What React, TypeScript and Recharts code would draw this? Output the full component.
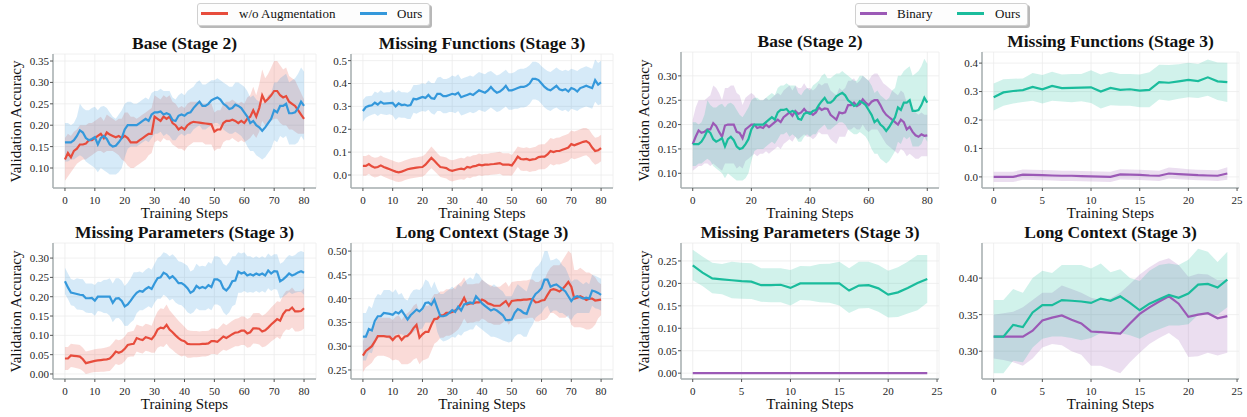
import { Area, CartesianGrid, ComposedChart, Line, XAxis, YAxis } from "recharts";

const RED = "#e74c3c";
const BLUE = "#3498db";
const PURPLE = "#9b59b6";
const GREEN = "#1abc9c";
const FONT = '"Liberation Serif", "Times New Roman", serif';

// x categories (training steps)
const steps81 = Array.from({ length: 81 }, (_, i) => i);
const steps25 = Array.from({ length: 25 }, (_, i) => i);

const xTicks80 = [0, 10, 20, 30, 40, 50, 60, 70, 80];
const xTicks80Wide = [0, 20, 40, 60, 80];
const xTicks25 = [0, 5, 10, 15, 20, 25];

// ---- Base (Stage 2)
const woBaseMean = [
  0.12, 0.135, 0.125, 0.14, 0.145, 0.155, 0.155, 0.157, 0.165, 0.165,
  0.17, 0.175, 0.18, 0.17, 0.183, 0.178, 0.175, 0.172, 0.175, 0.17,
  0.175, 0.17, 0.16, 0.16, 0.16, 0.165, 0.17, 0.175, 0.18, 0.18,
  0.22, 0.215, 0.21, 0.22, 0.215, 0.22, 0.205, 0.2, 0.19, 0.195,
  0.19, 0.2, 0.205, 0.208, 0.207, 0.206, 0.205, 0.204, 0.203, 0.202,
  0.185, 0.19, 0.19, 0.205, 0.21, 0.21, 0.213, 0.21, 0.205, 0.21,
  0.205, 0.215, 0.22, 0.235, 0.22, 0.24, 0.27, 0.255, 0.262, 0.27,
  0.28, 0.28, 0.27, 0.265, 0.268, 0.255, 0.25, 0.245, 0.235, 0.225,
  0.215,
];
const woBaseLo = [
  0.07, 0.08, 0.09, 0.1, 0.11, 0.115, 0.12, 0.12, 0.125, 0.13,
  0.135, 0.14, 0.14, 0.135, 0.14, 0.14, 0.14, 0.135, 0.13, 0.12,
  0.115, 0.105, 0.1, 0.1, 0.105, 0.11, 0.115, 0.12, 0.13, 0.135,
  0.16, 0.165, 0.16, 0.17, 0.165, 0.165, 0.155, 0.15, 0.145, 0.145,
  0.14, 0.15, 0.155, 0.16, 0.16, 0.16, 0.16, 0.155, 0.155, 0.155,
  0.14, 0.145, 0.145, 0.16, 0.165, 0.165, 0.17, 0.165, 0.16, 0.165,
  0.16, 0.165, 0.17, 0.18, 0.17, 0.185, 0.21, 0.2, 0.205, 0.21,
  0.215, 0.215, 0.205, 0.2, 0.2, 0.19, 0.19, 0.185, 0.18, 0.18,
  0.18,
];
const woBaseHi = [
  0.17, 0.18, 0.175, 0.185, 0.19, 0.2, 0.2, 0.2, 0.205, 0.205,
  0.21, 0.215, 0.22, 0.21, 0.225, 0.22, 0.215, 0.21, 0.215, 0.215,
  0.23, 0.23, 0.22, 0.22, 0.215, 0.22, 0.225, 0.23, 0.235, 0.24,
  0.27, 0.265, 0.26, 0.27, 0.265, 0.27, 0.255, 0.25, 0.24, 0.245,
  0.24, 0.25, 0.255, 0.255, 0.255, 0.255, 0.25, 0.25, 0.25, 0.25,
  0.23, 0.235, 0.235, 0.25, 0.255, 0.255, 0.26, 0.255, 0.25, 0.255,
  0.25, 0.265, 0.27, 0.29, 0.27, 0.295, 0.33, 0.31, 0.32, 0.335,
  0.35, 0.35, 0.34, 0.33, 0.335, 0.315, 0.31, 0.305, 0.29, 0.275,
  0.26,
];
const oursBaseMean = [
  0.16, 0.16, 0.16, 0.165, 0.175, 0.188, 0.183, 0.17, 0.165, 0.168,
  0.172, 0.155, 0.17, 0.175, 0.168, 0.155, 0.15, 0.152, 0.16, 0.17,
  0.19, 0.2, 0.2, 0.2, 0.2, 0.205, 0.21, 0.215, 0.21, 0.225,
  0.23, 0.23, 0.232, 0.225, 0.228, 0.225, 0.212, 0.21, 0.222, 0.225,
  0.222, 0.228, 0.23, 0.24, 0.248, 0.255, 0.245, 0.245, 0.25, 0.258,
  0.262, 0.265, 0.26, 0.25, 0.245, 0.238, 0.24, 0.248, 0.245, 0.24,
  0.23, 0.22, 0.205, 0.21, 0.2, 0.195, 0.187, 0.195, 0.205, 0.215,
  0.235, 0.23, 0.245, 0.245, 0.25, 0.228, 0.228, 0.23, 0.24, 0.255,
  0.245,
];
const oursBaseLo = [
  0.115, 0.115, 0.12, 0.12, 0.125, 0.13, 0.125, 0.115, 0.11, 0.105,
  0.1, 0.09, 0.1, 0.095, 0.09, 0.085, 0.085, 0.085, 0.09, 0.1,
  0.125, 0.145, 0.15, 0.15, 0.15, 0.155, 0.16, 0.165, 0.16, 0.17,
  0.18, 0.18, 0.185, 0.175, 0.18, 0.175, 0.165, 0.165, 0.175, 0.18,
  0.175, 0.18, 0.18, 0.19, 0.195, 0.2, 0.19, 0.19, 0.195, 0.2,
  0.205, 0.205, 0.2, 0.19, 0.185, 0.18, 0.18, 0.185, 0.18, 0.175,
  0.165, 0.15, 0.14, 0.14, 0.13, 0.125, 0.12, 0.125, 0.135, 0.145,
  0.165, 0.16, 0.175, 0.17, 0.175, 0.155, 0.155, 0.155, 0.16, 0.175,
  0.165,
];
const oursBaseHi = [
  0.205, 0.205, 0.2, 0.205, 0.22, 0.25, 0.24, 0.235, 0.235, 0.24,
  0.243, 0.235, 0.243, 0.245, 0.24, 0.23, 0.22, 0.215, 0.225, 0.235,
  0.25, 0.255, 0.255, 0.25, 0.25, 0.255, 0.26, 0.265, 0.26, 0.275,
  0.28, 0.28, 0.285, 0.28, 0.28, 0.28, 0.265, 0.26, 0.27, 0.275,
  0.27, 0.28, 0.285, 0.29, 0.3, 0.305, 0.295, 0.295, 0.3, 0.305,
  0.305, 0.31, 0.305, 0.3, 0.295, 0.29, 0.29, 0.3, 0.3, 0.295,
  0.29, 0.28, 0.265, 0.27, 0.26, 0.255, 0.25, 0.255, 0.27, 0.275,
  0.3, 0.3, 0.31, 0.315, 0.32, 0.3, 0.305, 0.31, 0.32, 0.335,
  0.325,
];
const binBaseMean = [
  0.16, 0.175, 0.188, 0.183, 0.185, 0.19, 0.19, 0.203, 0.197, 0.185,
  0.175, 0.198, 0.2, 0.2, 0.2, 0.185, 0.183, 0.172, 0.19, 0.195,
  0.2, 0.2, 0.193, 0.195, 0.193, 0.2, 0.195, 0.2, 0.205, 0.21,
  0.205, 0.215, 0.22, 0.225, 0.218, 0.228, 0.222, 0.225, 0.232, 0.225,
  0.225, 0.22, 0.225, 0.235, 0.23, 0.233, 0.232, 0.22, 0.215, 0.21,
  0.225, 0.223, 0.225, 0.24, 0.24, 0.245, 0.238, 0.242, 0.252, 0.245,
  0.24, 0.247, 0.25, 0.25, 0.24, 0.228, 0.22, 0.215, 0.21, 0.205,
  0.2, 0.21, 0.205, 0.19, 0.195, 0.185, 0.178, 0.175, 0.18, 0.177,
  0.178,
];
const binBaseLo = [
  0.105, 0.11, 0.115, 0.115, 0.12, 0.12, 0.115, 0.12, 0.115, 0.11,
  0.105, 0.12, 0.12, 0.12, 0.12, 0.11, 0.115, 0.11, 0.125, 0.13,
  0.135, 0.14, 0.135, 0.14, 0.14, 0.145, 0.14, 0.145, 0.15, 0.155,
  0.15, 0.16, 0.165, 0.17, 0.165, 0.175, 0.17, 0.175, 0.18, 0.175,
  0.175, 0.17, 0.175, 0.185, 0.18, 0.18, 0.18, 0.17, 0.165, 0.16,
  0.175, 0.175, 0.175, 0.19, 0.19, 0.195, 0.19, 0.19, 0.2, 0.19,
  0.185, 0.19, 0.19, 0.19, 0.18, 0.17, 0.16, 0.155, 0.15, 0.145,
  0.14, 0.15, 0.145, 0.135, 0.14, 0.135, 0.13, 0.13, 0.135, 0.135,
  0.135,
];
const binBaseHi = [
  0.21, 0.235, 0.25, 0.25, 0.25, 0.255, 0.26, 0.28, 0.275, 0.265,
  0.25, 0.275, 0.275, 0.28, 0.28, 0.265, 0.26, 0.24, 0.255, 0.26,
  0.265, 0.26, 0.25, 0.25, 0.25, 0.255, 0.25, 0.255, 0.26, 0.265,
  0.26, 0.27, 0.275, 0.28, 0.27, 0.28, 0.275, 0.275, 0.285, 0.275,
  0.275, 0.27, 0.275, 0.285, 0.28, 0.285, 0.285, 0.27, 0.265, 0.26,
  0.275, 0.27, 0.275, 0.29, 0.29, 0.295, 0.285, 0.29, 0.3, 0.295,
  0.29, 0.3, 0.305, 0.305, 0.295, 0.285, 0.28, 0.275, 0.27, 0.265,
  0.26, 0.27, 0.265, 0.245, 0.25, 0.235, 0.225, 0.22, 0.225, 0.22,
  0.22,
];

// ---- Missing Functions (Stage 3)
const woMFMean = [
  0.04, 0.04, 0.048, 0.038, 0.032, 0.035, 0.042, 0.035, 0.03, 0.025,
  0.02, 0.015, 0.012, 0.015, 0.02, 0.025, 0.028, 0.03, 0.032, 0.034,
  0.035, 0.045, 0.06, 0.075, 0.062, 0.048, 0.035, 0.033, 0.03, 0.022,
  0.018, 0.022, 0.025, 0.028, 0.025, 0.035, 0.032, 0.038, 0.04, 0.045,
  0.042, 0.045, 0.045, 0.047, 0.048, 0.05, 0.052, 0.045, 0.045, 0.045,
  0.042, 0.06, 0.08, 0.07, 0.068, 0.07, 0.065, 0.068, 0.07, 0.078,
  0.08, 0.08, 0.09, 0.105, 0.1, 0.105, 0.105, 0.11, 0.115, 0.12,
  0.135, 0.13, 0.135, 0.14, 0.145, 0.148, 0.14, 0.12, 0.105, 0.108,
  0.118,
];
const woMFLo = [
  -0.003, -0.003, 0.005, -0.005, -0.011, -0.008, -0.001, -0.008, -0.013, -0.018,
  -0.023, -0.028, -0.031, -0.028, -0.023, -0.018, -0.015, -0.013, -0.011, -0.009,
  -0.008, 0.002, 0.017, 0.03, 0.018, 0.004, -0.009, -0.012, -0.015, -0.024,
  -0.028, -0.024, -0.021, -0.018, -0.021, -0.011, -0.014, -0.008, -0.006, -0.001,
  -0.004, -0.001, -0.001, 0.001, 0.002, 0.003, 0.005, -0.002, -0.002, -0.002,
  -0.003, 0.015, 0.035, 0.02, 0.017, 0.019, 0.013, 0.016, 0.017, 0.024,
  0.025, 0.025, 0.034, 0.048, 0.042, 0.047, 0.046, 0.05, 0.055, 0.06,
  0.074, 0.069, 0.073, 0.078, 0.083, 0.086, 0.077, 0.058, 0.045, 0.05,
  0.06,
];
const woMFHi = [
  0.083, 0.083, 0.09, 0.08, 0.075, 0.078, 0.085, 0.078, 0.073, 0.068,
  0.063, 0.058, 0.055, 0.058, 0.063, 0.068, 0.072, 0.075, 0.077, 0.08,
  0.082, 0.092, 0.108, 0.125, 0.11, 0.095, 0.082, 0.08, 0.077, 0.068,
  0.064, 0.068, 0.072, 0.075, 0.072, 0.082, 0.08, 0.086, 0.088, 0.094,
  0.09, 0.093, 0.093, 0.096, 0.097, 0.1, 0.102, 0.095, 0.095, 0.095,
  0.088, 0.105, 0.125, 0.12, 0.118, 0.121, 0.117, 0.12, 0.123, 0.132,
  0.135, 0.135, 0.146, 0.162, 0.157, 0.163, 0.164, 0.17, 0.175, 0.18,
  0.195, 0.19, 0.195, 0.2, 0.205, 0.205, 0.198, 0.178, 0.163, 0.166,
  0.176,
];
const oursMFMean = [
  0.28, 0.297, 0.302, 0.305, 0.316, 0.308, 0.32, 0.312, 0.313, 0.314,
  0.315, 0.3, 0.313, 0.306, 0.308, 0.303, 0.306, 0.333, 0.331, 0.336,
  0.341, 0.337, 0.35, 0.336, 0.333, 0.355, 0.355, 0.345, 0.345, 0.35,
  0.355, 0.352, 0.36, 0.34, 0.345, 0.35, 0.355, 0.35, 0.36, 0.37,
  0.365, 0.36, 0.37, 0.385, 0.37, 0.36, 0.365, 0.375, 0.39, 0.37,
  0.37, 0.375, 0.38, 0.385, 0.385, 0.39, 0.4, 0.42, 0.42, 0.415,
  0.4, 0.385, 0.375, 0.37, 0.38, 0.39, 0.375, 0.37, 0.375, 0.365,
  0.38, 0.375, 0.365, 0.38, 0.385, 0.39, 0.385, 0.38, 0.415, 0.395,
  0.405,
];
const oursMFLo = [
  0.233, 0.25, 0.258, 0.263, 0.268, 0.258, 0.268, 0.265, 0.262, 0.266,
  0.26, 0.24, 0.252, 0.25, 0.25, 0.245, 0.245, 0.272, 0.268, 0.275,
  0.28, 0.277, 0.285, 0.27, 0.263, 0.28, 0.28, 0.27, 0.27, 0.275,
  0.275, 0.27, 0.28, 0.26, 0.265, 0.27, 0.275, 0.27, 0.275, 0.285,
  0.28, 0.275, 0.285, 0.295, 0.285, 0.275, 0.28, 0.29, 0.3, 0.285,
  0.285, 0.29, 0.29, 0.295, 0.295, 0.3, 0.31, 0.33, 0.33, 0.325,
  0.31, 0.295, 0.285, 0.28, 0.29, 0.295, 0.285, 0.28, 0.285, 0.275,
  0.29, 0.285, 0.28, 0.29, 0.295, 0.3, 0.295, 0.29, 0.32, 0.305,
  0.31,
];
const oursMFHi = [
  0.328, 0.343, 0.345, 0.346, 0.365, 0.358, 0.37, 0.36, 0.362, 0.362,
  0.375, 0.36, 0.37, 0.362, 0.362, 0.36, 0.368, 0.394, 0.393, 0.396,
  0.401, 0.397, 0.413, 0.402, 0.401, 0.425, 0.43, 0.42, 0.42, 0.425,
  0.435, 0.43, 0.44, 0.42, 0.425, 0.43, 0.435, 0.43, 0.44, 0.45,
  0.445, 0.44, 0.45, 0.455, 0.445, 0.435, 0.44, 0.45, 0.46, 0.445,
  0.445, 0.45, 0.46, 0.465, 0.465, 0.47, 0.48, 0.495, 0.495, 0.49,
  0.475, 0.465, 0.455, 0.45, 0.46, 0.47, 0.46, 0.455, 0.46, 0.455,
  0.465, 0.46, 0.455, 0.465, 0.47, 0.475, 0.47, 0.465, 0.505, 0.49,
  0.5,
];
const binMFMean = [
  0, 0, 0, 0.008, 0.007, 0.006, 0.005, 0.004, 0.004, 0.003,
  0.002, 0.001, 0, 0.009, 0.008, 0.007, 0.005, 0.004, 0.012, 0.01,
  0.008, 0.006, 0.005, 0.004, 0.012,
];
const binMFLo = [
  -0.018, -0.018, -0.018, -0.01, -0.011, -0.012, -0.013, -0.014, -0.014, -0.015,
  -0.016, -0.017, -0.018, -0.009, -0.01, -0.011, -0.013, -0.014, -0.006, -0.008,
  -0.01, -0.012, -0.013, -0.014, -0.01,
];
const binMFHi = [
  0.018, 0.018, 0.018, 0.026, 0.025, 0.024, 0.023, 0.022, 0.022, 0.021,
  0.02, 0.019, 0.018, 0.027, 0.026, 0.025, 0.023, 0.022, 0.033, 0.03,
  0.027, 0.025, 0.024, 0.023, 0.034,
];

// ---- Missing Parameters (Stage 3)
const woMPMean = [
  0.04, 0.04, 0.048, 0.047, 0.046, 0.045, 0.038, 0.028, 0.03, 0.032,
  0.034, 0.035, 0.036, 0.037, 0.038, 0.04, 0.048, 0.058, 0.055, 0.058,
  0.065, 0.075, 0.077, 0.078, 0.093, 0.09, 0.088, 0.095, 0.093, 0.09,
  0.1, 0.115, 0.12, 0.118, 0.127, 0.115, 0.108, 0.1, 0.093, 0.087,
  0.085, 0.078, 0.077, 0.077, 0.077, 0.077, 0.078, 0.078, 0.079, 0.085,
  0.085, 0.083, 0.09, 0.097, 0.093, 0.098, 0.103, 0.107, 0.108, 0.112,
  0.112, 0.105, 0.108, 0.118, 0.118, 0.117, 0.11, 0.113, 0.12, 0.128,
  0.135, 0.142, 0.138, 0.155, 0.165, 0.165, 0.172, 0.162, 0.162, 0.163,
  0.17,
];
const woMPLo = [
  0.01, 0.01, 0.018, 0.017, 0.015, 0.013, 0.008, 0.0, 0.002, 0.004,
  0.005, 0.005, 0.006, 0.006, 0.007, 0.008, 0.016, 0.026, 0.023, 0.026,
  0.033, 0.043, 0.045, 0.045, 0.058, 0.055, 0.053, 0.06, 0.058, 0.055,
  0.055, 0.068, 0.072, 0.07, 0.078, 0.068, 0.062, 0.055, 0.05, 0.045,
  0.048, 0.042, 0.042, 0.043, 0.043, 0.044, 0.045, 0.045, 0.047, 0.052,
  0.052, 0.05, 0.057, 0.063, 0.06, 0.064, 0.068, 0.072, 0.072, 0.075,
  0.075, 0.068, 0.07, 0.079, 0.078, 0.076, 0.069, 0.071, 0.077, 0.084,
  0.09, 0.096, 0.09, 0.106, 0.115, 0.114, 0.12, 0.11, 0.11, 0.112,
  0.118,
];
const woMPHi = [
  0.07, 0.07, 0.078, 0.077, 0.076, 0.075, 0.068, 0.058, 0.06, 0.062,
  0.064, 0.065, 0.066, 0.067, 0.069, 0.072, 0.08, 0.09, 0.087, 0.09,
  0.097, 0.108, 0.11, 0.112, 0.128, 0.125, 0.123, 0.13, 0.128, 0.125,
  0.145, 0.162, 0.17, 0.168, 0.18, 0.165, 0.156, 0.147, 0.138, 0.13,
  0.122, 0.114, 0.112, 0.111, 0.111, 0.11, 0.111, 0.111, 0.112, 0.118,
  0.118, 0.116, 0.123, 0.131, 0.126, 0.132, 0.138, 0.142, 0.144, 0.149,
  0.149, 0.142, 0.146, 0.157, 0.158, 0.158, 0.151, 0.155, 0.163, 0.172,
  0.18, 0.188, 0.186, 0.204, 0.215, 0.216, 0.224, 0.214, 0.214, 0.214,
  0.222,
];
const oursMPMean = [
  0.24, 0.224, 0.211, 0.209, 0.207, 0.205, 0.204, 0.196, 0.196, 0.197,
  0.19, 0.2, 0.2, 0.2, 0.2, 0.2, 0.184, 0.195, 0.196, 0.189,
  0.175, 0.18, 0.19, 0.201, 0.21, 0.215, 0.213, 0.22, 0.225, 0.22,
  0.235, 0.248, 0.25, 0.262, 0.258, 0.248, 0.253, 0.245, 0.235, 0.235,
  0.23, 0.222, 0.21, 0.215, 0.228, 0.222, 0.225, 0.222, 0.23, 0.225,
  0.245, 0.245, 0.24, 0.222, 0.216, 0.225, 0.24, 0.242, 0.265, 0.26,
  0.263, 0.255, 0.258, 0.255, 0.26, 0.256, 0.26, 0.255, 0.268, 0.26,
  0.266, 0.265, 0.24, 0.245, 0.252, 0.26, 0.255, 0.258, 0.263, 0.266,
  0.262,
];
const oursMPLo = [
  0.207, 0.194, 0.178, 0.176, 0.167, 0.166, 0.165, 0.159, 0.158, 0.158,
  0.151, 0.163, 0.162, 0.158, 0.157, 0.151, 0.134, 0.144, 0.145, 0.137,
  0.124, 0.125, 0.133, 0.14, 0.157, 0.165, 0.165, 0.17, 0.175, 0.17,
  0.185, 0.195, 0.195, 0.205, 0.2, 0.19, 0.195, 0.185, 0.18, 0.178,
  0.17, 0.16, 0.155, 0.16, 0.17, 0.165, 0.165, 0.165, 0.17, 0.165,
  0.18, 0.18, 0.175, 0.16, 0.152, 0.16, 0.175, 0.18, 0.21, 0.21,
  0.215, 0.21, 0.212, 0.21, 0.215, 0.21, 0.215, 0.21, 0.222, 0.215,
  0.22, 0.218, 0.195, 0.2, 0.205, 0.212, 0.207, 0.21, 0.212, 0.212,
  0.205,
];
const oursMPHi = [
  0.275, 0.26, 0.246, 0.243, 0.248, 0.246, 0.245, 0.234, 0.234, 0.234,
  0.23, 0.239, 0.238, 0.243, 0.244, 0.248, 0.234, 0.248, 0.248, 0.241,
  0.228, 0.236, 0.248, 0.263, 0.263, 0.265, 0.262, 0.27, 0.275, 0.27,
  0.285, 0.3, 0.305, 0.315, 0.312, 0.305, 0.31, 0.302, 0.292, 0.29,
  0.285, 0.28, 0.265, 0.27, 0.285, 0.278, 0.28, 0.278, 0.29, 0.285,
  0.305, 0.305, 0.3, 0.285, 0.28, 0.29, 0.305, 0.305, 0.315, 0.312,
  0.315, 0.305, 0.305, 0.3, 0.305, 0.3, 0.305, 0.3, 0.312, 0.305,
  0.31, 0.31, 0.285, 0.29, 0.3, 0.308, 0.305, 0.308, 0.315, 0.318,
  0.315,
];
const binMPMean = [
  0, 0, 0, 0, 0, 0, 0, 0, 0, 0, 0, 0, 0, 0, 0, 0, 0, 0, 0, 0, 0, 0, 0, 0, 0,
];
const binMPLo = binMPMean;
const binMPHi = binMPMean;

// ---- Long Context (Stage 3)
const woLCMean = [
  0.28, 0.29, 0.295, 0.3, 0.31, 0.321, 0.321, 0.321, 0.32, 0.32,
  0.313, 0.32, 0.322, 0.313, 0.32, 0.322, 0.328, 0.338, 0.345, 0.318,
  0.325, 0.33, 0.33, 0.345, 0.357, 0.358, 0.365, 0.365, 0.37, 0.37,
  0.372, 0.375, 0.38, 0.39, 0.402, 0.388, 0.39, 0.39, 0.392, 0.392,
  0.398, 0.395, 0.39, 0.388, 0.385, 0.385, 0.385, 0.39, 0.395, 0.385,
  0.395, 0.396, 0.397, 0.397, 0.398, 0.398, 0.399, 0.399, 0.392, 0.393,
  0.396, 0.397, 0.408, 0.418, 0.42, 0.418, 0.415, 0.42, 0.427, 0.435,
  0.425, 0.4, 0.402, 0.405, 0.402, 0.397, 0.4, 0.4, 0.396, 0.397,
  0.398,
];
const woLCLo = [
  0.245, 0.255, 0.26, 0.265, 0.275, 0.28, 0.28, 0.28, 0.278, 0.275,
  0.27, 0.272, 0.27, 0.262, 0.262, 0.262, 0.265, 0.272, 0.275, 0.262,
  0.27, 0.272, 0.275, 0.29, 0.305, 0.31, 0.318, 0.318, 0.322, 0.322,
  0.325, 0.33, 0.335, 0.345, 0.358, 0.348, 0.35, 0.35, 0.352, 0.352,
  0.358, 0.355, 0.35, 0.348, 0.345, 0.345, 0.345, 0.35, 0.355, 0.345,
  0.355, 0.356, 0.357, 0.357, 0.358, 0.358, 0.36, 0.36, 0.352, 0.352,
  0.355, 0.355, 0.36, 0.37, 0.37, 0.365, 0.36, 0.36, 0.36, 0.365,
  0.345, 0.34, 0.34, 0.34, 0.338, 0.335, 0.335, 0.338, 0.345, 0.358,
  0.365,
];
const woLCHi = [
  0.31, 0.325, 0.33, 0.335, 0.345, 0.36, 0.36, 0.36, 0.36, 0.36,
  0.355, 0.362, 0.365, 0.355, 0.365, 0.37, 0.375, 0.385, 0.39, 0.37,
  0.375, 0.385, 0.385, 0.4, 0.41, 0.41, 0.415, 0.415, 0.42, 0.42,
  0.42, 0.425, 0.43, 0.435, 0.445, 0.43, 0.43, 0.43, 0.432, 0.432,
  0.44, 0.435, 0.43, 0.428, 0.425, 0.425, 0.425, 0.43, 0.435, 0.425,
  0.435, 0.436, 0.437, 0.437, 0.438, 0.438, 0.44, 0.44, 0.435, 0.435,
  0.44, 0.44, 0.455, 0.465, 0.47, 0.47, 0.47, 0.48, 0.49, 0.5,
  0.495, 0.46, 0.46, 0.465, 0.46, 0.455, 0.455, 0.45, 0.445, 0.435,
  0.43,
];
const oursLCMean = [
  0.32, 0.32, 0.336, 0.333, 0.353, 0.363, 0.363, 0.37, 0.369, 0.368,
  0.366, 0.372, 0.369, 0.375, 0.366, 0.356, 0.365, 0.371, 0.377, 0.373,
  0.379, 0.391, 0.392, 0.387, 0.398, 0.38, 0.363, 0.363, 0.365, 0.37,
  0.376, 0.372, 0.383, 0.375, 0.388, 0.39, 0.392, 0.39, 0.405, 0.398,
  0.39, 0.385, 0.38, 0.375, 0.378, 0.375, 0.37, 0.365, 0.355, 0.355,
  0.356, 0.37, 0.378, 0.375, 0.37, 0.368, 0.385, 0.4, 0.41, 0.415,
  0.422, 0.44, 0.44, 0.425, 0.428, 0.43, 0.425, 0.42, 0.415, 0.405,
  0.395, 0.403, 0.405, 0.403, 0.4, 0.402, 0.4, 0.417, 0.415, 0.412,
  0.408,
];
const oursLCLo = [
  0.27, 0.27, 0.287, 0.285, 0.305, 0.317, 0.32, 0.32, 0.318, 0.315,
  0.318, 0.325, 0.325, 0.325, 0.322, 0.317, 0.325, 0.33, 0.335, 0.335,
  0.337, 0.35, 0.35, 0.35, 0.36, 0.33, 0.315, 0.31, 0.312, 0.315,
  0.32, 0.318, 0.325, 0.322, 0.33, 0.332, 0.335, 0.335, 0.345, 0.34,
  0.335, 0.33, 0.325, 0.32, 0.32, 0.318, 0.315, 0.312, 0.31, 0.308,
  0.31, 0.32, 0.325, 0.325, 0.32, 0.32, 0.335, 0.345, 0.36, 0.365,
  0.37, 0.38, 0.385, 0.37, 0.375, 0.375, 0.37, 0.37, 0.365, 0.36,
  0.355, 0.365, 0.37, 0.37, 0.37, 0.37, 0.37, 0.385, 0.38, 0.378,
  0.375,
];
const oursLCHi = [
  0.37, 0.37, 0.385, 0.38, 0.4, 0.41, 0.407, 0.418, 0.418, 0.418,
  0.413, 0.42, 0.408, 0.412, 0.4, 0.396, 0.41, 0.418, 0.42, 0.418,
  0.425, 0.44, 0.436, 0.422, 0.436, 0.42, 0.41, 0.41, 0.415, 0.42,
  0.425, 0.42, 0.43, 0.425, 0.435, 0.44, 0.445, 0.44, 0.455, 0.45,
  0.44, 0.435, 0.43, 0.425, 0.43, 0.425, 0.42, 0.415, 0.405, 0.405,
  0.405, 0.42, 0.43, 0.425, 0.42, 0.415, 0.435, 0.455, 0.465, 0.47,
  0.48, 0.5, 0.5, 0.48, 0.482, 0.485, 0.48, 0.47, 0.465, 0.45,
  0.435, 0.44, 0.44, 0.435, 0.43, 0.435, 0.43, 0.45, 0.448, 0.445,
  0.442,
];
const binLCMean = [
  0.32, 0.32, 0.32, 0.32, 0.328, 0.342, 0.346, 0.349, 0.343, 0.338,
  0.327, 0.326, 0.325, 0.324, 0.338, 0.351, 0.36, 0.368, 0.375, 0.365,
  0.347, 0.35, 0.352, 0.345, 0.348,
];
const binLCLo = [
  0.29, 0.288, 0.285, 0.28, 0.29, 0.305, 0.31, 0.308, 0.3, 0.295,
  0.28, 0.28, 0.275, 0.27, 0.285, 0.298, 0.31, 0.318, 0.325, 0.315,
  0.292, 0.293, 0.298, 0.294, 0.298,
];
const binLCHi = [
  0.35, 0.352, 0.354, 0.36, 0.37, 0.38, 0.38, 0.39, 0.385, 0.38,
  0.373, 0.37, 0.372, 0.38, 0.392, 0.405, 0.415, 0.423, 0.427, 0.418,
  0.402, 0.406, 0.405, 0.397, 0.398,
];

const leftLegend = [
  { label: "w/o Augmentation", color: RED },
  { label: "Ours", color: BLUE },
];
const rightLegend = [
  { label: "Binary", color: PURPLE },
  { label: "Ours", color: GREEN },
];

type Series = { color: string; mean: number[]; lo: number[]; hi: number[] };
type Box = { l: number; t: number; r: number; b: number };
type PanelCfg = {
  title: string;
  box: Box;
  steps: number[];
  xDomain: [number, number];
  xTicks: number[];
  yDomain: [number, number];
  yTicks: number[];
  digits: number;
  series: Series[];
};

const first25 = (a: number[]) => a.slice(0, 25);

const panels: PanelCfg[] = [
  {
    title: "Base (Stage 2)",
    box: { l: 53, t: 54, r: 316, b: 188 },
    steps: steps81,
    xDomain: [-4, 84],
    xTicks: xTicks80,
    yDomain: [0.0533, 0.3664],
    yTicks: [0.1, 0.15, 0.2, 0.25, 0.3, 0.35],
    digits: 2,
    series: [
      { color: RED, mean: woBaseMean, lo: woBaseLo, hi: woBaseHi },
      { color: BLUE, mean: oursBaseMean, lo: oursBaseLo, hi: oursBaseHi },
    ],
  },
  {
    title: "Missing Functions (Stage 3)",
    box: { l: 351, t: 54, r: 613, b: 188 },
    steps: steps81,
    xDomain: [-4, 84],
    xTicks: xTicks80,
    yDomain: [-0.0568, 0.529],
    yTicks: [0, 0.1, 0.2, 0.3, 0.4, 0.5],
    digits: 1,
    series: [
      { color: RED, mean: woMFMean, lo: woMFLo, hi: woMFHi },
      { color: BLUE, mean: oursMFMean, lo: oursMFLo, hi: oursMFHi },
    ],
  },
  {
    title: "Missing Parameters (Stage 3)",
    box: { l: 53, t: 243, r: 316, b: 379 },
    steps: steps81,
    xDomain: [-4, 84],
    xTicks: xTicks80,
    yDomain: [-0.013, 0.339],
    yTicks: [0, 0.05, 0.1, 0.15, 0.2, 0.25, 0.3],
    digits: 2,
    series: [
      { color: RED, mean: woMPMean, lo: woMPLo, hi: woMPHi },
      { color: BLUE, mean: oursMPMean, lo: oursMPLo, hi: oursMPHi },
    ],
  },
  {
    title: "Long Context (Stage 3)",
    box: { l: 351, t: 243, r: 613, b: 379 },
    steps: steps81,
    xDomain: [-4, 84],
    xTicks: xTicks80,
    yDomain: [0.231, 0.517],
    yTicks: [0.25, 0.3, 0.35, 0.4, 0.45, 0.5],
    digits: 2,
    series: [
      { color: RED, mean: woLCMean, lo: woLCLo, hi: woLCHi },
      { color: BLUE, mean: oursLCMean, lo: oursLCLo, hi: oursLCHi },
    ],
  },
  {
    title: "Base (Stage 2)",
    box: { l: 681, t: 52, r: 939, b: 188 },
    steps: steps81,
    xDomain: [-4, 84],
    xTicks: xTicks80Wide,
    yDomain: [0.0698, 0.349],
    yTicks: [0.1, 0.15, 0.2, 0.25, 0.3],
    digits: 2,
    series: [
      { color: PURPLE, mean: binBaseMean, lo: binBaseLo, hi: binBaseHi },
      { color: GREEN, mean: oursBaseMean, lo: oursBaseLo, hi: oursBaseHi },
    ],
  },
  {
    title: "Missing Functions (Stage 3)",
    box: { l: 982, t: 52, r: 1239, b: 188 },
    steps: steps25,
    xDomain: [-1.2, 25.2],
    xTicks: xTicks25,
    yDomain: [-0.039, 0.439],
    yTicks: [0, 0.1, 0.2, 0.3, 0.4],
    digits: 1,
    series: [
      { color: PURPLE, mean: binMFMean, lo: binMFLo, hi: binMFHi },
      { color: GREEN, mean: first25(oursMFMean), lo: first25(oursMFLo), hi: first25(oursMFHi) },
    ],
  },
  {
    title: "Missing Parameters (Stage 3)",
    box: { l: 681, t: 243, r: 939, b: 379 },
    steps: steps25,
    xDomain: [-1.2, 25.2],
    xTicks: xTicks25,
    yDomain: [-0.013, 0.29],
    yTicks: [0, 0.05, 0.1, 0.15, 0.2, 0.25],
    digits: 2,
    series: [
      { color: PURPLE, mean: binMPMean, lo: binMPLo, hi: binMPHi },
      { color: GREEN, mean: first25(oursMPMean), lo: first25(oursMPLo), hi: first25(oursMPHi) },
    ],
  },
  {
    title: "Long Context (Stage 3)",
    box: { l: 982, t: 243, r: 1239, b: 379 },
    steps: steps25,
    xDomain: [-1.2, 25.2],
    xTicks: xTicks25,
    yDomain: [0.262, 0.448],
    yTicks: [0.3, 0.35, 0.4],
    digits: 2,
    series: [
      { color: PURPLE, mean: binLCMean, lo: binLCLo, hi: binLCHi },
      { color: GREEN, mean: first25(oursLCMean), lo: first25(oursLCLo), hi: first25(oursLCHi) },
    ],
  },
];

const PAD_L = 50;
const PAD_T = 5;
const PAD_R = 5;
const PAD_B = 25;

const tickStyle = { fontSize: 11, fill: "#262626", fontFamily: FONT };
const spine = { stroke: "#a7afb0", strokeWidth: 1.5 };
const tickLine = { stroke: "#555" };

const Panel = ({ cfg }: { cfg: PanelCfg }) => {
  const { box, series } = cfg;
  const rows = cfg.steps.map((s, i) => {
    const row: Record<string, unknown> = { step: s };
    series.forEach((sr, k) => {
      row[`m${k}`] = sr.mean[i];
      row[`b${k}`] = [sr.lo[i], sr.hi[i]];
    });
    return row;
  });
  const cx = (box.l + box.r) / 2;
  return (
    <>
      <div
        style={{
          position: "absolute",
          left: cx - 150,
          width: 300,
          top: box.t - 19.5,
          textAlign: "center",
          fontSize: 17.5,
          lineHeight: "17.5px",
          fontWeight: 700,
          whiteSpace: "nowrap",
        }}
      >
        {cfg.title}
      </div>
      <div
        style={{
          position: "absolute",
          left: cx - 100,
          width: 200,
          top: box.b + 18.4,
          textAlign: "center",
          fontSize: 15,
          lineHeight: "15px",
          whiteSpace: "nowrap",
        }}
      >
        Training Steps
      </div>
      <div style={{ position: "absolute", left: box.l - PAD_L, top: box.t - PAD_T }}>
        <ComposedChart
          width={box.r - box.l + PAD_L + PAD_R}
          height={box.b - box.t + PAD_T + PAD_B}
          data={rows}
          margin={{ top: PAD_T, right: PAD_R, bottom: 0, left: 0 }}
        >
          <CartesianGrid stroke="#ececec" strokeWidth={0.8} />
          <XAxis
            type="number"
            dataKey="step"
            domain={cfg.xDomain}
            ticks={cfg.xTicks}
            interval={0}
            allowDataOverflow
            height={PAD_B}
            tick={tickStyle}
            tickSize={3}
            tickMargin={5}
            axisLine={spine}
            tickLine={tickLine}
          />
          <YAxis
            type="number"
            domain={cfg.yDomain}
            ticks={cfg.yTicks}
            interval={0}
            allowDataOverflow
            width={PAD_L}
            tick={tickStyle}
            tickSize={3}
            tickMargin={1}
            tickFormatter={(v: number) => v.toFixed(cfg.digits)}
            axisLine={spine}
            tickLine={tickLine}
          />
          {series.flatMap((sr, k) => [
            <Area
              key={`a${k}`}
              type="linear"
              dataKey={`b${k}`}
              stroke="none"
              fill={sr.color}
              fillOpacity={0.2}
              dot={false}
              activeDot={false}
              isAnimationActive={false}
            />,
            <Line
              key={`l${k}`}
              type="linear"
              dataKey={`m${k}`}
              stroke={sr.color}
              strokeWidth={2.2}
              dot={false}
              activeDot={false}
              isAnimationActive={false}
            />,
          ])}
        </ComposedChart>
      </div>
    </>
  );
};

const YLabel = ({ cx, cy }: { cx: number; cy: number }) => (
  <div
    style={{
      position: "absolute",
      left: cx - 80,
      top: cy - 7.5,
      width: 160,
      height: 15,
      textAlign: "center",
      fontSize: 15,
      lineHeight: "15px",
      whiteSpace: "nowrap",
      transform: "rotate(-90deg)",
    }}
  >
    Validation Accuracy
  </div>
);

type LegendItem = { label: string; color: string };

const LegendBox = ({
  left,
  width,
  items,
  lineX,
  textX,
}: {
  left: number;
  width: number;
  items: LegendItem[];
  lineX: number[];
  textX: number[];
}) => (
  <div
    style={{
      position: "absolute",
      left,
      top: 3,
      width,
      height: 21,
      border: "1px solid #d0d0d0",
      borderRadius: 3,
      background: "#fdfdfd",
      boxShadow: "2px 2px 0 rgba(0,0,0,0.28)",
    }}
  >
    {items.map((it, i) => (
      <div key={it.label + i}>
        <div
          style={{
            position: "absolute",
            left: lineX[i],
            top: 8,
            width: 27,
            height: 2.5,
            background: it.color,
          }}
        />
        <span
          style={{
            position: "absolute",
            left: textX[i],
            top: 3.4,
            fontSize: 13,
            lineHeight: "13px",
            whiteSpace: "nowrap",
          }}
        >
          {it.label}
        </span>
      </div>
    ))}
  </div>
);

export default function App() {
  return (
    <div
      style={{
        position: "absolute",
        left: 0,
        top: 0,
        width: 1247,
        height: 417,
        background: "#fff",
        fontFamily: FONT,
        color: "#111",
        overflow: "hidden",
      }}
    >
      <LegendBox left={197} width={231} items={leftLegend} lineX={[3, 162]} textX={[41, 199]} />
      <LegendBox left={855} width={171} items={rightLegend} lineX={[4, 101]} textX={[41, 139]} />
      {panels.map((p, i) => (
        <Panel key={i} cfg={p} />
      ))}
      <YLabel cx={15.8} cy={121} />
      <YLabel cx={15.8} cy={311} />
      <YLabel cx={644.3} cy={120} />
      <YLabel cx={644.3} cy={311} />
    </div>
  );
}
